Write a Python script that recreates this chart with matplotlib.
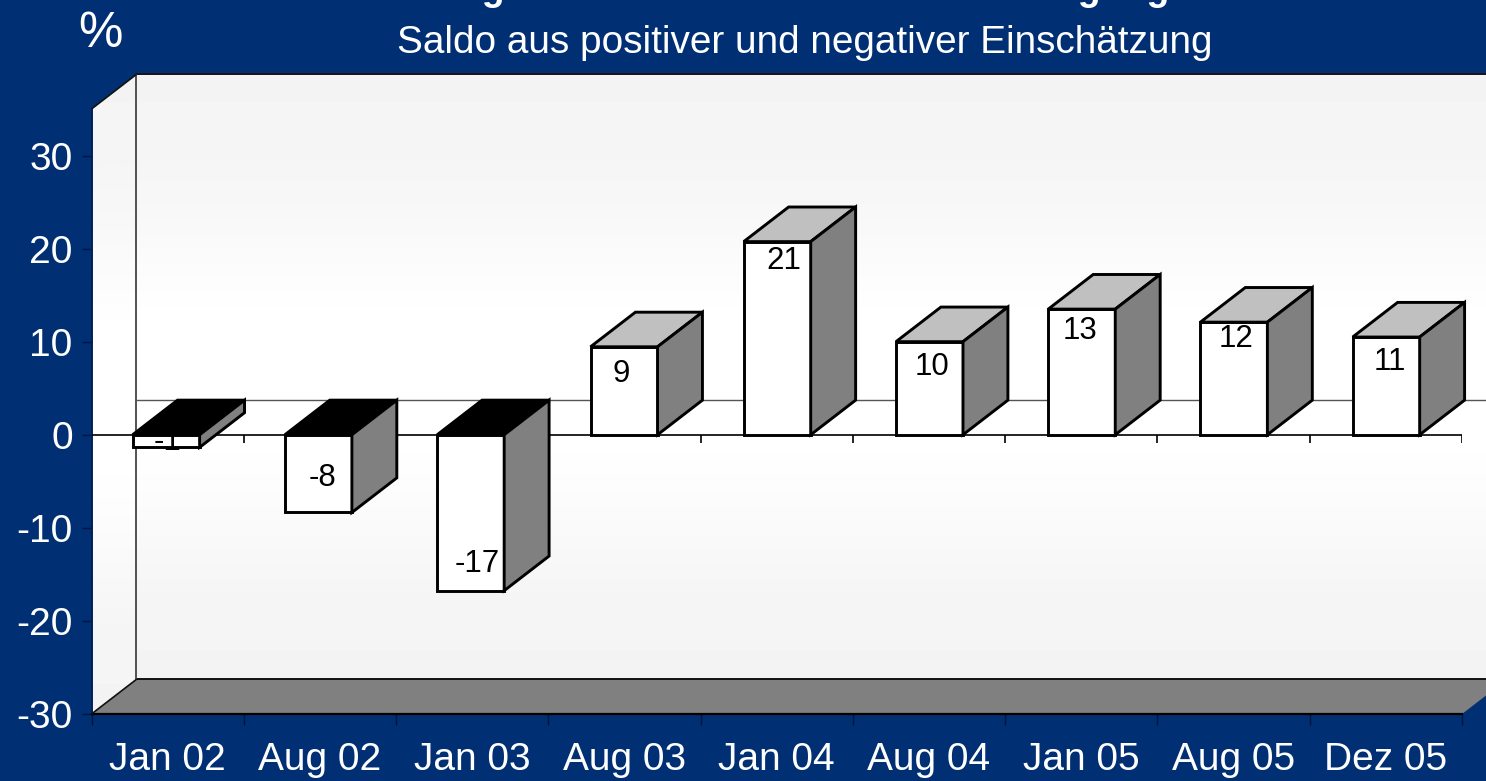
import matplotlib
matplotlib.use('Agg')
import matplotlib.pyplot as plt
import numpy as np

categories = ['Jan 02', 'Aug 02', 'Jan 03', 'Aug 03', 'Jan 04', 'Aug 04', 'Jan 05', 'Aug 05', 'Dez 05']
values = [-1.35, -8.35, -16.75, 9.45, 20.75, 10.0, 13.5, 12.1, 10.5]
labels = ['-1', '-8', '-17', '9', '21', '10', '13', '12', '11']
yticks = [-30, -20, -10, 0, 10, 20, 30]

# where each value label sits, relative to the top of its bar (x in categories, y in %)
label_dx = [0.0, 0.02, 0.03, -0.023, 0.045, 0.02, -0.006, 0.015, 0.026]
label_dy = [0.55, 3.75, 2.85, -2.95, -2.05, -2.7, -2.4, -1.8, -2.7]
# small shifts of the bars, the original does not space them quite evenly
bar_dx = [0, 0, 0, 0.007, 0.013, 0.013, 0.013, 0.012, 0.012]

# the top of the title is cut off in the original, only the g descenders show.
# the wording is a guess
title = 'Lage des Unternehmens nach Befragung'
subtitle = 'Saldo aus positiver und negativer Einschätzung'

navy = '#002f73'
W, H = 1486, 781

plt.rcParams['font.family'] = ['Liberation Sans', 'DejaVu Sans']
plt.rcParams['axes.unicode_minus'] = False

fig = plt.figure(figsize=(W / 100, H / 100), dpi=100, facecolor=navy)
ax = fig.add_axes([91.5 / W, 1 - 714 / H, (1462 - 91.5) / W, (714 - 109) / H])
ax.patch.set_alpha(0)

# depth of the fake 3d box, in data units
dx = 0.295
dy = 3.72
bar_w = 0.44
ymin, ymax = -30, 35
n = len(categories)

grad = np.array([0.957, 0.96, 0.97, 0.985, 1, 1, 1, 0.99, 0.975, 0.96, 0.957]).reshape(-1, 1)
back = ax.imshow(grad, cmap='gray', vmin=0, vmax=1, aspect='auto', interpolation='bilinear',
                 extent=[dx, n + dx, ymin + dy, ymax + dy], zorder=1)
back.set_clip_on(False)
side = ax.imshow(grad, cmap='gray', vmin=0, vmax=1, aspect='auto', interpolation='bilinear',
                 extent=[0, dx, ymin, ymax + dy], zorder=1)
side_shape = plt.Polygon([(0, ymin), (dx, ymin + dy), (dx, ymax + dy), (0, ymax)],
                         transform=ax.transData, fc='none', ec='none')
ax.add_patch(side_shape)
side.set_clip_box(fig.bbox)
side.set_clip_path(side_shape)

# floor
ax.fill([0, n, n + dx, dx], [ymin, ymin, ymin + dy, ymin + dy], fc='#808080', ec='none', zorder=2, clip_on=False)

# box edges
kw = dict(clip_on=False, zorder=3, solid_capstyle='butt')
ax.plot([dx, n + dx], [ymin + dy, ymin + dy], color='#111111', lw=1.4, **kw)
ax.plot([dx, n + dx], [ymax + dy, ymax + dy], color='#111111', lw=1.4, **kw)
ax.plot([dx, dx], [ymin + dy, ymax + dy], color='#444444', lw=1.3, **kw)
ax.plot([0, dx], [ymin, ymin + dy], color='#111111', lw=1.2, **kw)
ax.plot([0, dx], [ymax, ymax + dy], color='#111111', lw=1.2, **kw)

# zero plane: back line, front line and its ticks
ax.plot([dx, n + dx], [dy, dy], color='#555555', lw=1.0, **kw)
ax.plot([0, n], [0, 0], color='black', lw=1.2, **kw)
ax.vlines(np.arange(1, n + 1), -0.85, 0, color='black', lw=1.2, zorder=3)

for i, v in enumerate(values):
    x0 = i + 0.5 - bar_w / 2 - 0.01 + bar_dx[i]
    x1 = x0 + bar_w
    edge = dict(ec='black', lw=2.1, joinstyle='miter', clip_on=False, zorder=4 + i)
    ax.fill([x0, x1, x1, x0], [0, 0, v, v], fc='white', **edge)
    top = max(v, 0)
    top_color = '#c0c0c0' if v > 0 else 'black'
    ax.fill([x0, x1, x1 + dx, x0 + dx], [top, top, top + dy, top + dy], fc=top_color, **edge)
    ax.fill([x1, x1 + dx, x1 + dx, x1], [0, dy, v + dy, v], fc='#808080', **edge)
    ax.text(i + 0.5 + label_dx[i], v + label_dy[i], labels[i], fontsize=22.5, color='black',
            ha='center', va='center', zorder=30)

ax.set_xlim(0, n)
ax.set_ylim(ymin, ymax)

for s in ['top', 'right']:
    ax.spines[s].set_visible(False)
ax.spines['bottom'].set_color('#000000')
ax.spines['bottom'].set_linewidth(1.6)
ax.spines['left'].set_color('#00205a')
ax.spines['left'].set_linewidth(1.4)

ax.set_yticks(yticks)
ax.set_xticks(np.arange(0, n + 1))
ax.set_xticklabels([])
ax.set_xticks(np.arange(n) + 0.5, categories, minor=True)
ax.tick_params(axis='x', which='major', length=8, width=1.0, color='#00153f')
ax.tick_params(axis='x', which='minor', length=0, pad=20.5, labelsize=28, labelcolor='white')
ax.tick_params(axis='y', length=7.5, width=1.0, color='#00153f', pad=6, labelsize=28, labelcolor='white')

fig.text(804 / W, 1, title, fontsize=27, fontweight='bold', color='white', ha='center', va='baseline')
fig.text(804.5 / W, 1 - 43 / H, subtitle, fontsize=27.9, color='white', ha='center', va='center')
fig.text(100 / W, 1 - 34 / H, '%', fontsize=36, color='white', ha='center', va='center')

fig.savefig('out.png', dpi=100, facecolor=navy)
